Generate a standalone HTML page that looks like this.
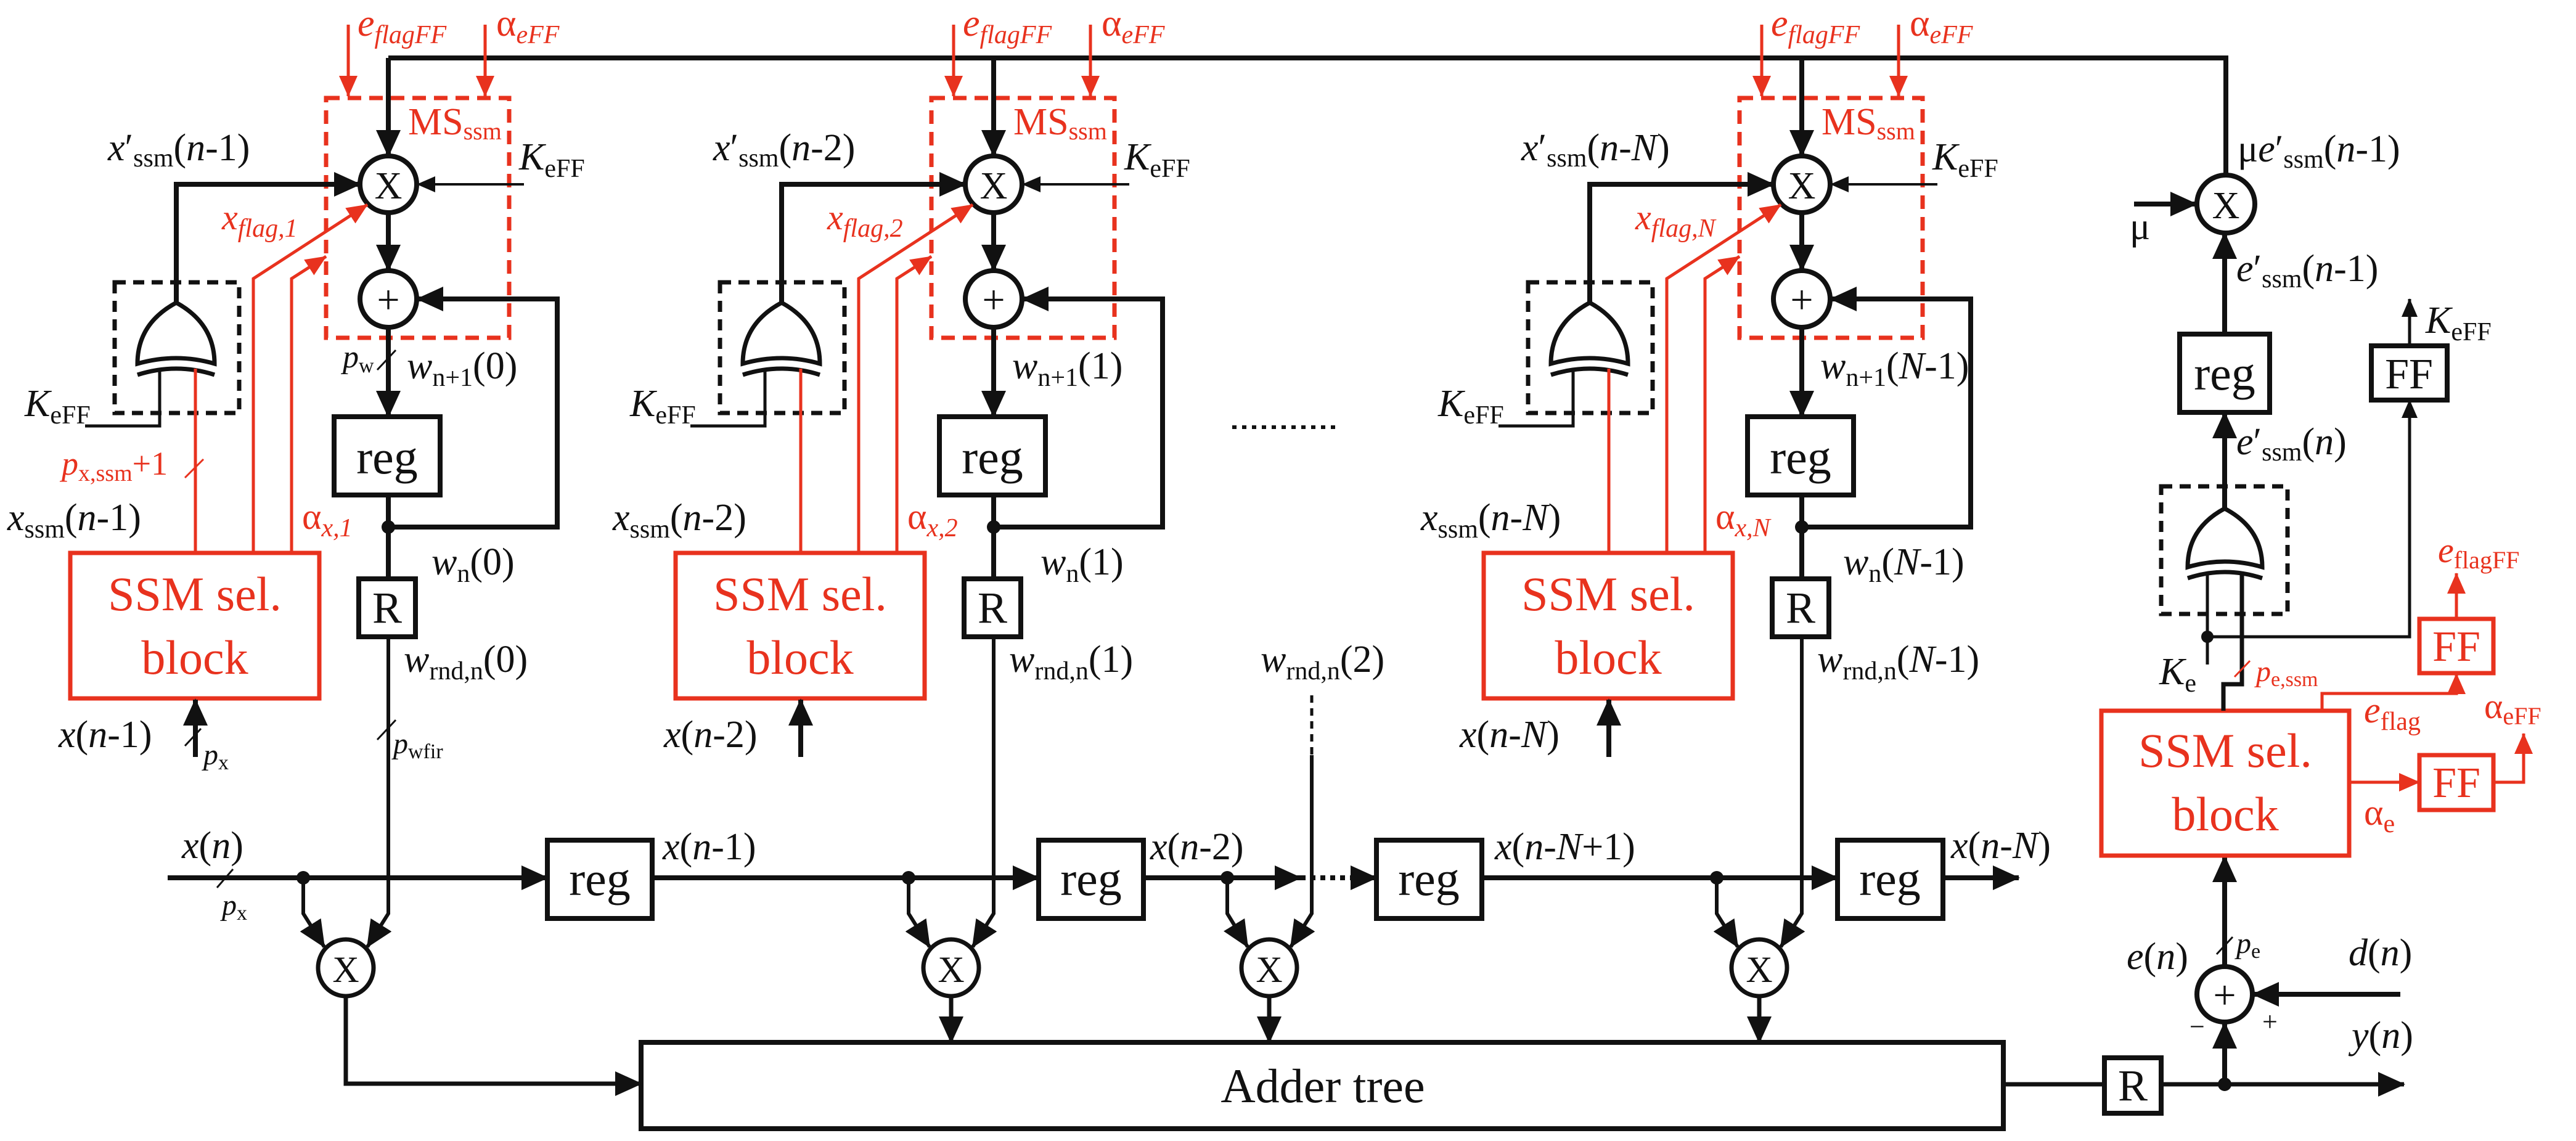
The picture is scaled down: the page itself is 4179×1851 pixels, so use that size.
<!DOCTYPE html>
<html><head><meta charset="utf-8"><style>
html,body{margin:0;padding:0;background:#fff;}
svg{display:block;}
text{font-family:"Liberation Serif",serif;fill:#111;}
.r{fill:#e8321e;}
.i{font-style:italic;}
.s{font-size:40px;}
</style></head><body>
<svg width="4179" height="1851" viewBox="0 0 4179 1851" xmlns="http://www.w3.org/2000/svg">
<defs>
<marker id="a" markerUnits="userSpaceOnUse" markerWidth="44" markerHeight="40" refX="42" refY="20" orient="auto"><path d="M0,0 L44,20 L0,40 Z" fill="#111"/></marker>
<marker id="as" markerUnits="userSpaceOnUse" markerWidth="30" markerHeight="26" refX="29" refY="13" orient="auto"><path d="M0,0 L30,13 L0,26 Z" fill="#111"/></marker>
<marker id="ar" markerUnits="userSpaceOnUse" markerWidth="34" markerHeight="30" refX="33" refY="15" orient="auto"><path d="M0,0 L34,15 L0,30 Z" fill="#e8321e"/></marker>
<g id="col">
  <!-- red control inputs -->
  <line x1="565" y1="40" x2="565" y2="156" stroke="#e8321e" stroke-width="5" marker-end="url(#ar)"/>
  <line x1="787" y1="40" x2="787" y2="156" stroke="#e8321e" stroke-width="5" marker-end="url(#ar)"/>
  <text x="580" y="58" font-size="62" class="r i">e<tspan font-size="42" dy="12">flagFF</tspan></text>
  <text x="805" y="58" font-size="62" class="r">α<tspan font-size="42" dy="12" class="i">eFF</tspan></text>
  <rect x="529" y="159" width="297" height="389" fill="none" stroke="#e8321e" stroke-width="7" stroke-dasharray="22 13"/>
  <line x1="630" y1="94" x2="630" y2="253" stroke="#111" stroke-width="8" marker-end="url(#a)"/>
  <circle cx="630" cy="299" r="46" fill="#fff" stroke="#111" stroke-width="8"/>
  <text x="630" y="322" font-size="62" text-anchor="middle">X</text>
  <text x="662" y="218" font-size="62" class="r">MS<tspan font-size="40" dy="8">ssm</tspan></text>
  <text x="842" y="275" font-size="62"><tspan class="i">K</tspan><tspan font-size="42" dy="12">eFF</tspan></text>
  <line x1="850" y1="299" x2="677" y2="299" stroke="#111" stroke-width="4" marker-end="url(#as)"/>
  <path d="M286 491 V299 H584" fill="none" stroke="#111" stroke-width="8" marker-end="url(#a)"/>
  <path d="M411 897 V452 L596 332" fill="none" stroke="#e8321e" stroke-width="5" marker-end="url(#ar)"/>
  <path d="M473 897 V452 L529 416" fill="none" stroke="#e8321e" stroke-width="5" marker-end="url(#ar)"/>
  <circle cx="630" cy="485" r="46" fill="#fff" stroke="#111" stroke-width="8"/>
  <text x="630" y="508" font-size="66" text-anchor="middle">+</text>
  <line x1="630" y1="345" x2="630" y2="439" stroke="#111" stroke-width="8" marker-end="url(#a)"/>
  <path d="M630 855 H904 V485 H677" fill="none" stroke="#111" stroke-width="8" marker-end="url(#a)"/>
  <line x1="630" y1="531" x2="630" y2="676" stroke="#111" stroke-width="8" marker-end="url(#a)"/>
  <rect x="542" y="676" width="172" height="127" fill="#fff" stroke="#111" stroke-width="8"/>
  <text x="628" y="768" font-size="78" text-anchor="middle">reg</text>
  <line x1="630" y1="803" x2="630" y2="939" stroke="#111" stroke-width="8"/>
  <circle cx="630" cy="855" r="11" fill="#111"/>
  <rect x="582" y="939" width="92" height="94" fill="#fff" stroke="#111" stroke-width="8"/>
  <text x="628" y="1010" font-size="72" text-anchor="middle">R</text>
  <!-- XOR -->
  <rect x="186" y="458" width="202" height="212" fill="none" stroke="#111" stroke-width="7" stroke-dasharray="18 12"/>
  <path d="M223 590 Q223 525 286 491 Q348 525 348 590 Q286 572 223 590 Z" fill="#fff" stroke="#111" stroke-width="7"/>
  <path d="M223 608 Q286 588 348 608" fill="none" stroke="#111" stroke-width="7"/>
  <path d="M259 598 V691 H138" fill="none" stroke="#111" stroke-width="5"/>
  <line x1="317" y1="598" x2="317" y2="897" stroke="#e8321e" stroke-width="5"/>
  <rect x="114" y="897" width="404" height="236" fill="#fff" stroke="#e8321e" stroke-width="7"/>
  <text x="316" y="990" font-size="78" text-anchor="middle" class="r">SSM sel.</text>
  <text x="316" y="1093" font-size="78" text-anchor="middle" class="r">block</text>
  <line x1="317" y1="1228" x2="317" y2="1135" stroke="#111" stroke-width="8" marker-end="url(#a)"/>
  <text x="40" y="675" font-size="62"><tspan class="i">K</tspan><tspan font-size="42" dy="12">eFF</tspan></text>
  <!-- bottom multiplier -->
  <path d="M630 1033 V1482 L596 1536" fill="none" stroke="#111" stroke-width="6" marker-end="url(#a)"/>
  <path d="M492 1424 V1482 L526 1536" fill="none" stroke="#111" stroke-width="6" marker-end="url(#a)"/>
  <circle cx="492" cy="1424" r="11" fill="#111"/>
  <ellipse cx="561" cy="1570" rx="45" ry="46" fill="#fff" stroke="#111" stroke-width="7"/>
  <text x="561" y="1593" font-size="60" text-anchor="middle">X</text>
</g>
</defs>

<!-- top feedback line -->
<path d="M630 94 H3611 V284" fill="none" stroke="#111" stroke-width="8"/>

<use href="#col"/>
<use href="#col" transform="translate(982,0)"/>
<use href="#col" transform="translate(2293,0)"/>

<!-- column 1 labels -->
<text x="175" y="260" font-size="62"><tspan class="i">x</tspan>′<tspan font-size="42" dy="10">ssm</tspan><tspan dy="-10">(</tspan><tspan class="i">n</tspan>-1)</text>
<text x="360" y="372" font-size="58" class="r i">x<tspan font-size="42" dy="12">flag,1</tspan></text>
<text x="556" y="596" font-size="52" class="i">p<tspan font-size="34" dy="8" font-style="normal">w</tspan></text>
<line x1="612" y1="600" x2="642" y2="568" stroke="#111" stroke-width="3"/>
<text x="660" y="614" font-size="62"><tspan class="i">w</tspan><tspan font-size="42" dy="12">n+1</tspan><tspan dy="-12">(0)</tspan></text>
<text x="100" y="770" font-size="54" class="r"><tspan class="i">p</tspan><tspan font-size="38" dy="10">x,ssm</tspan><tspan dy="-10">+1</tspan></text>
<line x1="300" y1="775" x2="330" y2="745" stroke="#e8321e" stroke-width="3"/>
<text x="12" y="860" font-size="62"><tspan class="i">x</tspan><tspan font-size="42" dy="12">ssm</tspan><tspan dy="-12">(</tspan><tspan class="i">n</tspan>-1)</text>
<text x="490" y="858" font-size="60" class="r">α<tspan font-size="42" dy="12" class="i">x,1</tspan></text>
<text x="700" y="932" font-size="62"><tspan class="i">w</tspan><tspan font-size="42" dy="12">n</tspan><tspan dy="-12">(0)</tspan></text>
<text x="655" y="1090" font-size="62"><tspan class="i">w</tspan><tspan font-size="42" dy="12">rnd,n</tspan><tspan dy="-12">(0)</tspan></text>
<text x="95" y="1212" font-size="62"><tspan class="i">x</tspan>(<tspan class="i">n</tspan>-1)</text>
<line x1="300" y1="1210" x2="326" y2="1182" stroke="#111" stroke-width="3"/>
<text x="330" y="1240" font-size="48" class="i">p<tspan font-size="34" dy="8" font-style="normal">x</tspan></text>
<line x1="612" y1="1200" x2="642" y2="1168" stroke="#111" stroke-width="3"/>
<text x="638" y="1222" font-size="48" class="i">p<tspan font-size="34" dy="8" font-style="normal">wfir</tspan></text>

<!-- column 2 labels -->
<text x="1157" y="260" font-size="62"><tspan class="i">x</tspan>′<tspan font-size="42" dy="10">ssm</tspan><tspan dy="-10">(</tspan><tspan class="i">n</tspan>-2)</text>
<text x="1342" y="372" font-size="58" class="r i">x<tspan font-size="42" dy="12">flag,2</tspan></text>
<text x="1642" y="614" font-size="62"><tspan class="i">w</tspan><tspan font-size="42" dy="12">n+1</tspan><tspan dy="-12">(1)</tspan></text>
<text x="994" y="860" font-size="62"><tspan class="i">x</tspan><tspan font-size="42" dy="12">ssm</tspan><tspan dy="-12">(</tspan><tspan class="i">n</tspan>-2)</text>
<text x="1472" y="858" font-size="60" class="r">α<tspan font-size="42" dy="12" class="i">x,2</tspan></text>
<text x="1688" y="932" font-size="62"><tspan class="i">w</tspan><tspan font-size="42" dy="12">n</tspan><tspan dy="-12">(1)</tspan></text>
<text x="1637" y="1090" font-size="62"><tspan class="i">w</tspan><tspan font-size="42" dy="12">rnd,n</tspan><tspan dy="-12">(1)</tspan></text>
<text x="1077" y="1212" font-size="62"><tspan class="i">x</tspan>(<tspan class="i">n</tspan>-2)</text>

<!-- column N labels -->
<text x="2468" y="260" font-size="62"><tspan class="i">x</tspan>′<tspan font-size="42" dy="10">ssm</tspan><tspan dy="-10">(</tspan><tspan class="i">n</tspan>-<tspan class="i">N</tspan>)</text>
<text x="2653" y="372" font-size="58" class="r i">x<tspan font-size="42" dy="12">flag,N</tspan></text>
<text x="2953" y="614" font-size="62"><tspan class="i">w</tspan><tspan font-size="42" dy="12">n+1</tspan><tspan dy="-12">(</tspan><tspan class="i">N</tspan>-1)</text>
<text x="2305" y="860" font-size="62"><tspan class="i">x</tspan><tspan font-size="42" dy="12">ssm</tspan><tspan dy="-12">(</tspan><tspan class="i">n</tspan>-<tspan class="i">N</tspan>)</text>
<text x="2783" y="858" font-size="60" class="r">α<tspan font-size="42" dy="12" class="i">x,N</tspan></text>
<text x="2990" y="932" font-size="62"><tspan class="i">w</tspan><tspan font-size="42" dy="12">n</tspan><tspan dy="-12">(</tspan><tspan class="i">N</tspan>-1)</text>
<text x="2948" y="1090" font-size="62"><tspan class="i">w</tspan><tspan font-size="42" dy="12">rnd,n</tspan><tspan dy="-12">(</tspan><tspan class="i">N</tspan>-1)</text>
<text x="2368" y="1212" font-size="62"><tspan class="i">x</tspan>(<tspan class="i">n</tspan>-<tspan class="i">N</tspan>)</text>

<!-- middle dots -->
<line x1="1999" y1="693" x2="2172" y2="693" stroke="#111" stroke-width="6" stroke-dasharray="7 9"/>

<!-- third multiplier -->
<text x="2045" y="1090" font-size="62"><tspan class="i">w</tspan><tspan font-size="42" dy="12">rnd,n</tspan><tspan dy="-12">(2)</tspan></text>
<line x1="2128" y1="1128" x2="2128" y2="1225" stroke="#111" stroke-width="5" stroke-dasharray="12 9"/>
<path d="M2128 1225 V1482 L2094 1536" fill="none" stroke="#111" stroke-width="6" marker-end="url(#a)"/>
<path d="M1991 1424 V1482 L2024 1536" fill="none" stroke="#111" stroke-width="6" marker-end="url(#a)"/>
<circle cx="1991" cy="1424" r="11" fill="#111"/>
<ellipse cx="2059" cy="1570" rx="45" ry="46" fill="#fff" stroke="#111" stroke-width="7"/>
<text x="2059" y="1593" font-size="60" text-anchor="middle">X</text>

<!-- x(n) delay line -->
<line x1="272" y1="1424" x2="888" y2="1424" stroke="#111" stroke-width="8" marker-end="url(#a)"/>
<line x1="1058" y1="1424" x2="1685" y2="1424" stroke="#111" stroke-width="8" marker-end="url(#a)"/>
<line x1="1855" y1="1424" x2="2110" y2="1424" stroke="#111" stroke-width="8" marker-end="url(#a)"/>
<line x1="2110" y1="1424" x2="2190" y2="1424" stroke="#111" stroke-width="8" stroke-dasharray="8 8"/>
<line x1="2190" y1="1424" x2="2233" y2="1424" stroke="#111" stroke-width="8" marker-end="url(#a)"/>
<line x1="2404" y1="1424" x2="2981" y2="1424" stroke="#111" stroke-width="8" marker-end="url(#a)"/>
<line x1="3152" y1="1424" x2="3275" y2="1424" stroke="#111" stroke-width="8" marker-end="url(#a)"/>
<g fill="#fff" stroke="#111" stroke-width="8">
<rect x="888" y="1363" width="170" height="127"/>
<rect x="1685" y="1363" width="170" height="127"/>
<rect x="2233" y="1363" width="171" height="127"/>
<rect x="2981" y="1363" width="171" height="127"/>
</g>
<text x="973" y="1452" font-size="78" text-anchor="middle">reg</text>
<text x="1770" y="1452" font-size="78" text-anchor="middle">reg</text>
<text x="2318" y="1452" font-size="78" text-anchor="middle">reg</text>
<text x="3066" y="1452" font-size="78" text-anchor="middle">reg</text>
<text x="295" y="1392" font-size="62"><tspan class="i">x</tspan>(<tspan class="i">n</tspan>)</text>
<line x1="352" y1="1440" x2="378" y2="1410" stroke="#111" stroke-width="3"/>
<text x="360" y="1484" font-size="48" class="i">p<tspan font-size="34" dy="8" font-style="normal">x</tspan></text>
<text x="1075" y="1394" font-size="62"><tspan class="i">x</tspan>(<tspan class="i">n</tspan>-1)</text>
<text x="1866" y="1394" font-size="62"><tspan class="i">x</tspan>(<tspan class="i">n</tspan>-2)</text>
<text x="2425" y="1394" font-size="62"><tspan class="i">x</tspan>(<tspan class="i">n</tspan>-<tspan class="i">N</tspan>+1)</text>
<text x="3165" y="1392" font-size="62"><tspan class="i">x</tspan>(<tspan class="i">n</tspan>-<tspan class="i">N</tspan>)</text>

<!-- adder tree -->
<rect x="1040" y="1691" width="2210" height="140" fill="#fff" stroke="#111" stroke-width="8"/>
<text x="2146" y="1788" font-size="78" text-anchor="middle">Adder tree</text>
<path d="M561 1616 V1758 H1040" fill="none" stroke="#111" stroke-width="7" marker-end="url(#a)"/>
<line x1="1543" y1="1616" x2="1543" y2="1691" stroke="#111" stroke-width="7" marker-end="url(#a)"/>
<line x1="2059" y1="1616" x2="2059" y2="1691" stroke="#111" stroke-width="7" marker-end="url(#a)"/>
<line x1="2854" y1="1616" x2="2854" y2="1691" stroke="#111" stroke-width="7" marker-end="url(#a)"/>

<!-- right section -->
<line x1="3250" y1="1759" x2="3414" y2="1759" stroke="#111" stroke-width="7"/>
<rect x="3414" y="1716" width="92" height="90" fill="#fff" stroke="#111" stroke-width="8"/>
<text x="3460" y="1785" font-size="72" text-anchor="middle">R</text>
<line x1="3506" y1="1759" x2="3900" y2="1759" stroke="#111" stroke-width="7" marker-end="url(#a)"/>
<circle cx="3609" cy="1759" r="11" fill="#111"/>
<line x1="3609" y1="1759" x2="3609" y2="1659" stroke="#111" stroke-width="8" marker-end="url(#a)"/>
<text x="3815" y="1700" font-size="62"><tspan class="i">y</tspan>(<tspan class="i">n</tspan>)</text>
<circle cx="3609" cy="1613" r="45" fill="#fff" stroke="#111" stroke-width="8"/>
<text x="3609" y="1636" font-size="66" text-anchor="middle">+</text>
<text x="3670" y="1672" font-size="44">+</text>
<text x="3552" y="1680" font-size="44">−</text>
<line x1="3894" y1="1613" x2="3655" y2="1613" stroke="#111" stroke-width="8" marker-end="url(#a)"/>
<text x="3810" y="1566" font-size="62"><tspan class="i">d</tspan>(<tspan class="i">n</tspan>)</text>
<text x="3450" y="1572" font-size="62"><tspan class="i">e</tspan>(<tspan class="i">n</tspan>)</text>
<line x1="3609" y1="1568" x2="3609" y2="1389" stroke="#111" stroke-width="8" marker-end="url(#a)"/>
<line x1="3596" y1="1548" x2="3622" y2="1520" stroke="#111" stroke-width="3"/>
<text x="3628" y="1546" font-size="48" class="i">p<tspan font-size="34" dy="8" font-style="normal">e</tspan></text>

<rect x="3409" y="1153" width="402" height="235" fill="#fff" stroke="#e8321e" stroke-width="7"/>
<text x="3610" y="1244" font-size="78" text-anchor="middle" class="r">SSM sel.</text>
<text x="3610" y="1347" font-size="78" text-anchor="middle" class="r">block</text>

<path d="M3767 1153 V1125 H3985 V1093" fill="none" stroke="#e8321e" stroke-width="5" marker-end="url(#ar)"/>
<text x="3835" y="1172" font-size="60" class="r"><tspan class="i">e</tspan><tspan font-size="42" dy="12">flag</tspan></text>
<line x1="3811" y1="1269" x2="3925" y2="1269" stroke="#e8321e" stroke-width="5" marker-end="url(#ar)"/>
<text x="3835" y="1338" font-size="60" class="r">α<tspan font-size="42" dy="12">e</tspan></text>
<rect x="3925" y="1004" width="120" height="88" fill="#fff" stroke="#e8321e" stroke-width="7"/>
<text x="3985" y="1072" font-size="70" text-anchor="middle" class="r">FF</text>
<rect x="3925" y="1225" width="120" height="89" fill="#fff" stroke="#e8321e" stroke-width="7"/>
<text x="3985" y="1293" font-size="70" text-anchor="middle" class="r">FF</text>
<path d="M4045 1269 H4094 V1190" fill="none" stroke="#e8321e" stroke-width="5" marker-end="url(#ar)"/>
<text x="4030" y="1165" font-size="58" class="r">α<tspan font-size="40" dy="10">eFF</tspan></text>
<line x1="3985" y1="1004" x2="3985" y2="930" stroke="#e8321e" stroke-width="5" marker-end="url(#ar)"/>
<text x="3955" y="912" font-size="58" class="r"><tspan class="i">e</tspan><tspan font-size="40" dy="10">flagFF</tspan></text>

<!-- XOR for error -->
<rect x="3506" y="789" width="205" height="207" fill="none" stroke="#111" stroke-width="7" stroke-dasharray="18 12"/>
<path d="M3549 920 Q3549 857 3609 825 Q3670 857 3670 920 Q3609 902 3549 920 Z" fill="#fff" stroke="#111" stroke-width="7"/>
<path d="M3549 938 Q3609 918 3670 938" fill="none" stroke="#111" stroke-width="7"/>
<line x1="3581" y1="928" x2="3581" y2="1078" stroke="#111" stroke-width="5"/>
<circle cx="3581" cy="1033" r="10" fill="#111"/>
<path d="M3581 1033 H3909 V649" fill="none" stroke="#111" stroke-width="5" marker-end="url(#as)"/>
<path d="M3637 928 V1110 H3607 V1153" fill="none" stroke="#111" stroke-width="7"/>
<text x="3503" y="1110" font-size="62"><tspan class="i">K</tspan><tspan font-size="42" dy="12">e</tspan></text>
<line x1="3625" y1="1098" x2="3650" y2="1072" stroke="#e8321e" stroke-width="3"/>
<text x="3660" y="1105" font-size="48" class="r"><tspan class="i">p</tspan><tspan font-size="34" dy="8">e,ssm</tspan></text>

<line x1="3609" y1="825" x2="3609" y2="669" stroke="#111" stroke-width="8" marker-end="url(#a)"/>
<text x="3628" y="737" font-size="62"><tspan class="i">e</tspan>′<tspan font-size="42" dy="10">ssm</tspan><tspan dy="-10">(</tspan><tspan class="i">n</tspan>)</text>
<rect x="3536" y="542" width="146" height="127" fill="#fff" stroke="#111" stroke-width="8"/>
<text x="3609" y="632" font-size="78" text-anchor="middle">reg</text>
<line x1="3609" y1="542" x2="3609" y2="378" stroke="#111" stroke-width="8" marker-end="url(#a)"/>
<text x="3628" y="456" font-size="62"><tspan class="i">e</tspan>′<tspan font-size="42" dy="10">ssm</tspan><tspan dy="-10">(</tspan><tspan class="i">n</tspan>-1)</text>
<rect x="3847" y="561" width="123" height="88" fill="#fff" stroke="#111" stroke-width="8"/>
<text x="3908" y="630" font-size="70" text-anchor="middle">FF</text>
<line x1="3909" y1="561" x2="3909" y2="485" stroke="#111" stroke-width="5" marker-end="url(#as)"/>
<text x="3935" y="540" font-size="62"><tspan class="i">K</tspan><tspan font-size="42" dy="12">eFF</tspan></text>
<circle cx="3611" cy="331" r="47" fill="#fff" stroke="#111" stroke-width="8"/>
<text x="3611" y="354" font-size="62" text-anchor="middle">X</text>
<line x1="3462" y1="331" x2="3563" y2="331" stroke="#111" stroke-width="8" marker-end="url(#a)"/>
<text x="3455" y="388" font-size="62">μ</text>
<text x="3630" y="262" font-size="62">μ<tspan class="i">e</tspan>′<tspan font-size="42" dy="10">ssm</tspan><tspan dy="-10">(</tspan><tspan class="i">n</tspan>-1)</text>
</svg>
</body></html>
